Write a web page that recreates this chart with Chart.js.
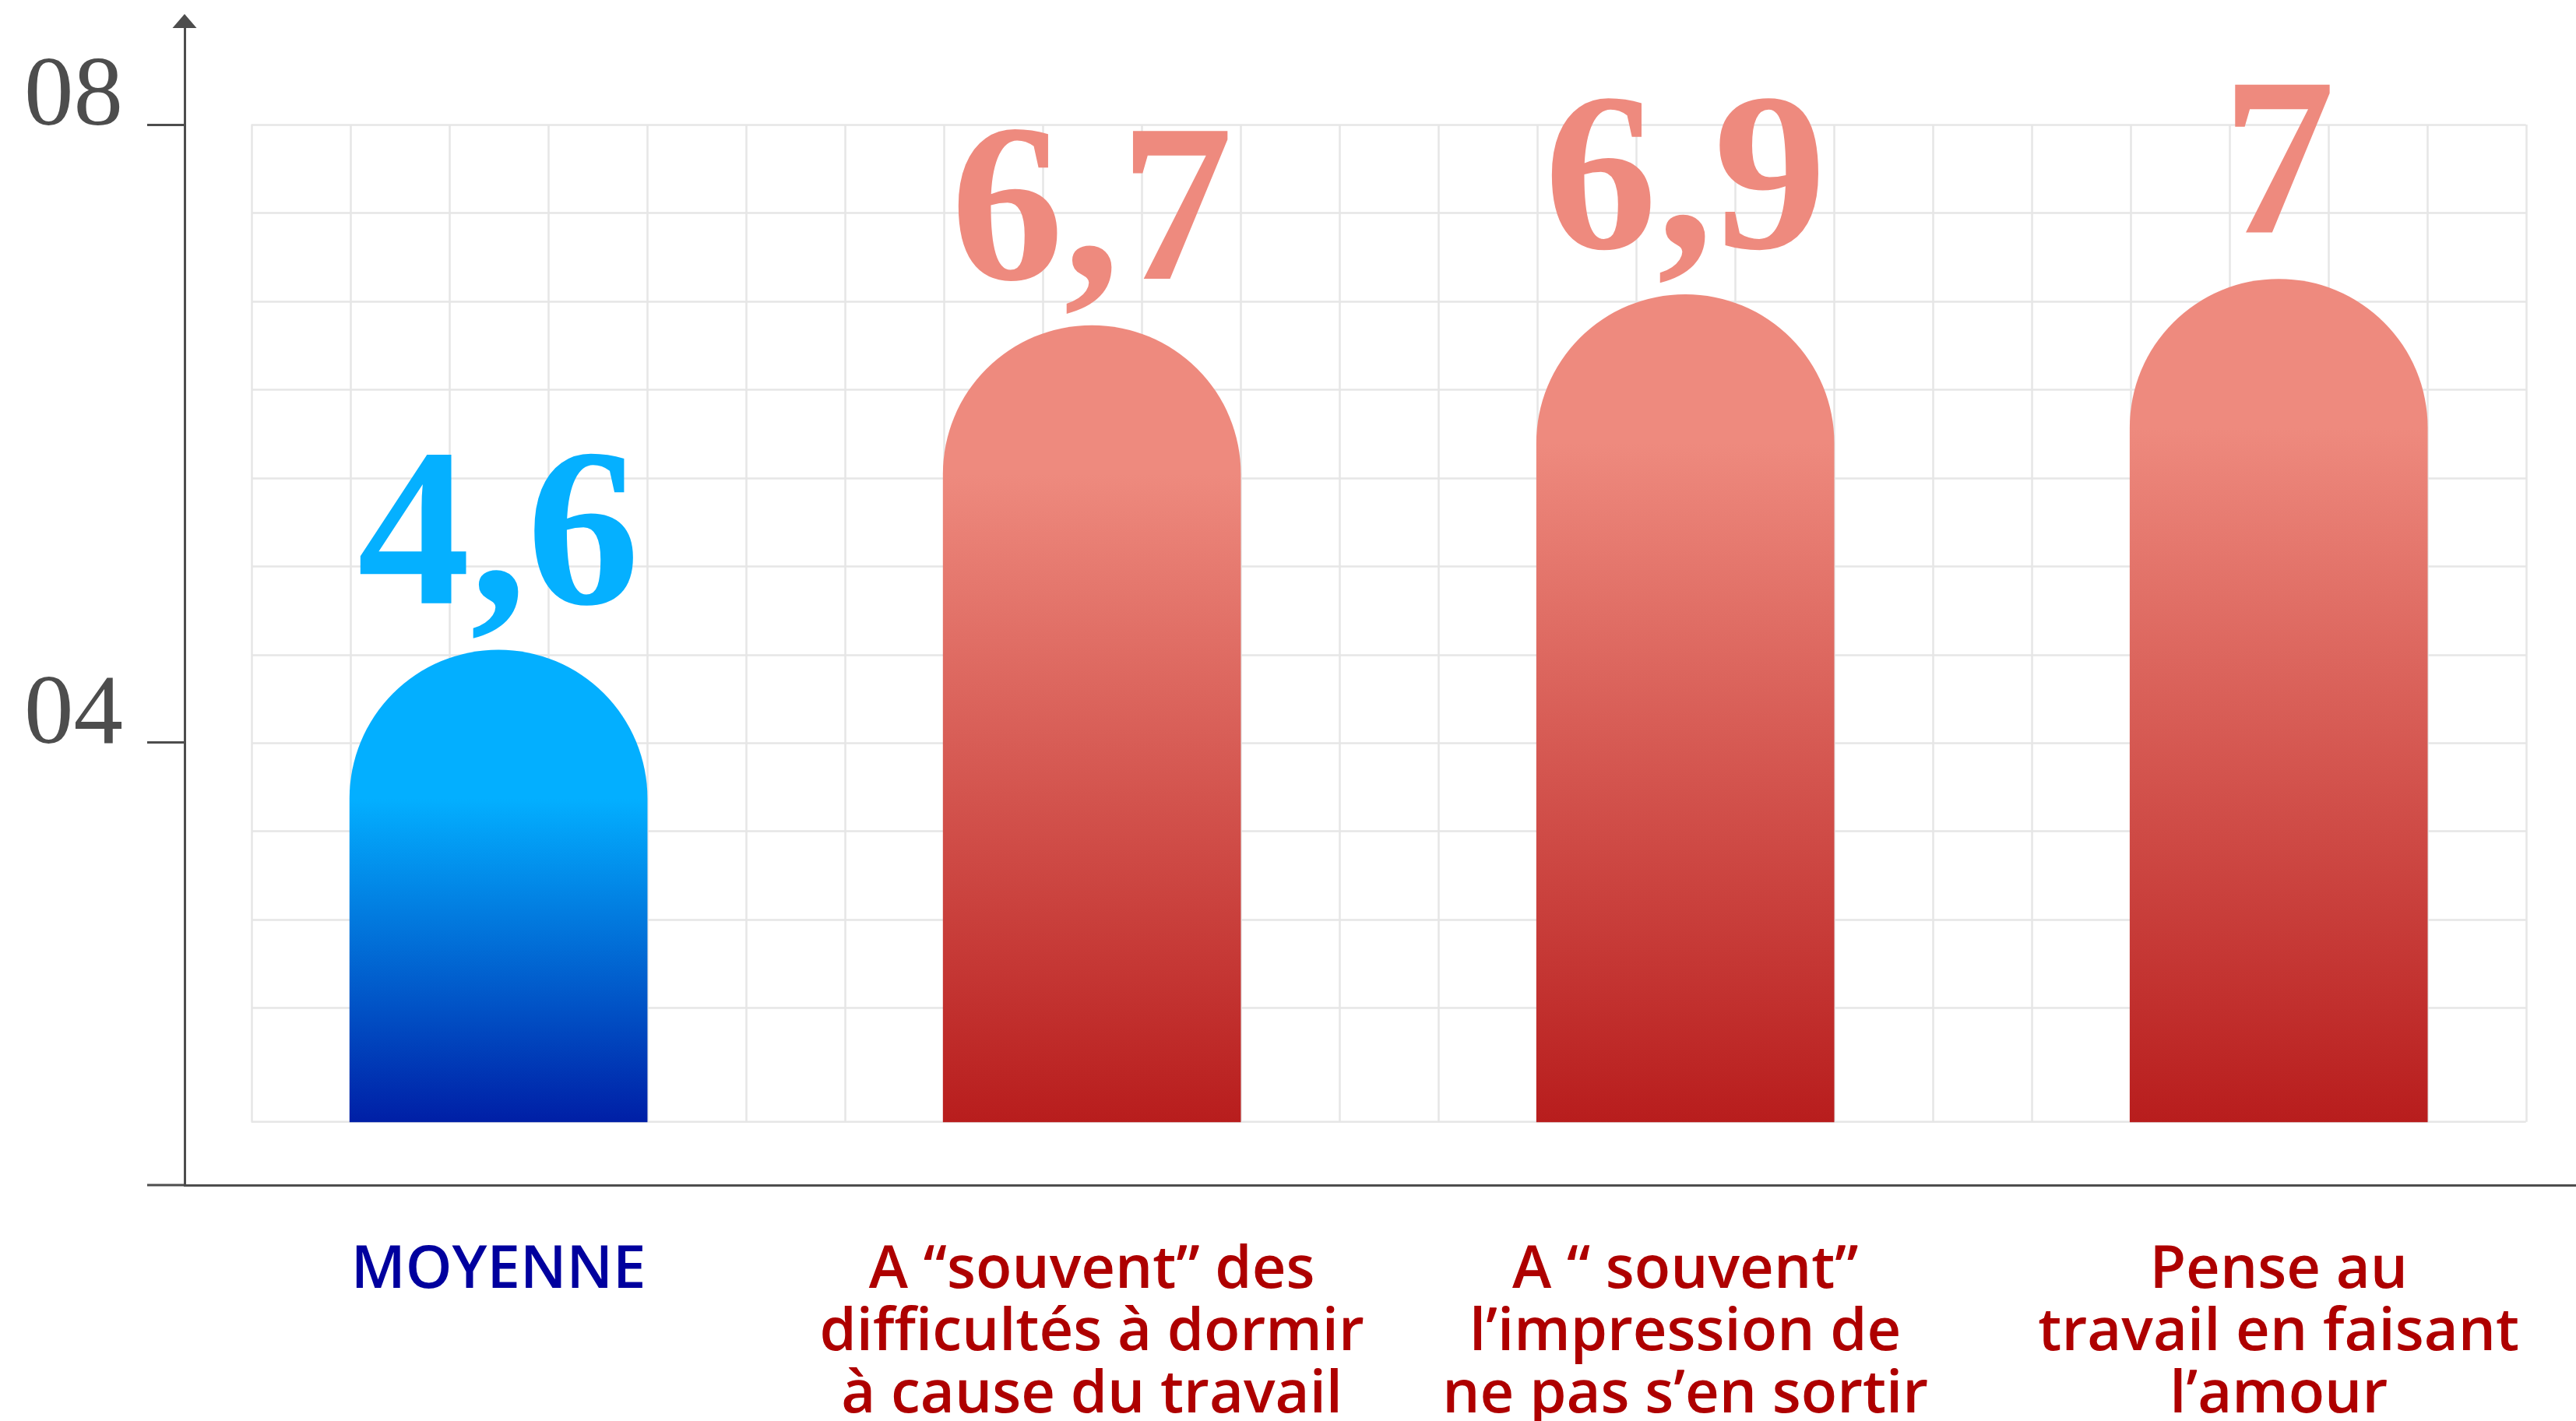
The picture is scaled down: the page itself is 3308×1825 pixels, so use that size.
<!DOCTYPE html>
<html>
<head>
<meta charset="utf-8">
<script src="https://cdn.jsdelivr.net/npm/chart.js@4/dist/chart.umd.min.js"></script>
<style>
  html, body { margin: 0; padding: 0; background: #ffffff; }
  #wrap { width: 3308px; height: 1825px; position: relative; }
</style>
</head>
<body>
<div id="wrap"><canvas id="c"></canvas></div>
<script>
// ---- data ----
const categories = [
  ["MOYENNE"],
  ["A “souvent” des", "difficultés à dormir", "à cause du travail"],
  ["A “ souvent”", "l’impression de", "ne pas s’en sortir"],
  ["Pense au", "travail en faisant", "l’amour"]
];
const values = [4.6, 6.7, 6.9, 7];
const valueLabels = ["4,6", "6,7", "6,9", "7"];
const yTickValues = [4, 8];
const yTickLabels = ["04", "08"];

// ---- styling / layout ----
const barBase = 1.547;
const groupOf = ["blue", "red", "red", "red"];
const palette = {
  blue: { top: "#03AFFF", bottom: "#001FA6", label: "#05B0FF", text: "#00009E" },
  red:  { top: "#EE8A7E", bottom: "#B81D1D", label: "#EE8A7E", text: "#AE0000" }
};
const AXIS = "#4d4d4d";
const GRIDC = "#e6e6e6";
const BAR_W = 382;

function barFill(ctx) {
  const chart = ctx.chart;
  const p = palette[groupOf[ctx.dataIndex] || "red"];
  if (ctx.type !== "data" || !chart.chartArea || !chart.scales.y) return p.top;
  const y = chart.scales.y;
  const top = y.getPixelForValue(values[ctx.dataIndex]);
  const bottom = y.getPixelForValue(barBase);
  const g = chart.ctx.createLinearGradient(0, top + BAR_W / 2, 0, bottom);
  g.addColorStop(0, p.top);
  g.addColorStop(1, p.bottom);
  return g;
}

function noPad(s) {
  s.paddingTop = 0; s.paddingBottom = 0; s.paddingLeft = 0; s.paddingRight = 0;
}

const gridPlugin = {
  id: "bgGrid",
  beforeDatasetsDraw(chart) {
    const { ctx, scales: { x, y } } = chart;
    const xl = x.getPixelForValue(-2.5 / 6), xr = x.getPixelForValue(20.5 / 6);
    const yt = y.getPixelForValue(8), yb = y.getPixelForValue(barBase);
    ctx.save();
    ctx.strokeStyle = GRIDC;
    ctx.lineWidth = 2.5;
    ctx.beginPath();
    for (let k = 0; k <= 10; k++) {
      const py = Math.round(y.getPixelForValue(8 - k * 4 / 7)) + 0.5;
      ctx.moveTo(xl, py); ctx.lineTo(xr, py);
    }
    ctx.moveTo(xl, yb); ctx.lineTo(xr, yb);
    for (let k = 0; k <= 23; k++) {
      const px = Math.round(x.getPixelForValue((k - 2.5) / 6)) + 0.5;
      ctx.moveTo(px, yt); ctx.lineTo(px, yb);
    }
    ctx.stroke();
    ctx.restore();
  }
};

const labelPlugin = {
  id: "valueLabels",
  afterDatasetsDraw(chart) {
    const ctx = chart.ctx;
    const meta = chart.getDatasetMeta(0);
    ctx.save();
    ctx.font = 'bold 290px "Liberation Serif", "DejaVu Serif", serif';
    ctx.textAlign = "center";
    ctx.textBaseline = "alphabetic";
    meta.data.forEach((el, i) => {
      ctx.fillStyle = palette[groupOf[i]].label;
      ctx.fillText(valueLabels[i], el.x, el.y - 60);
    });
    ctx.restore();
  }
};

const axisExtras = {
  id: "axisExtras",
  afterDraw(chart) {
    const { ctx, chartArea: a } = chart;
    ctx.save();
    ctx.strokeStyle = AXIS;
    ctx.fillStyle = AXIS;
    ctx.lineWidth = 3;
    ctx.beginPath();
    ctx.moveTo(a.left - 48, a.bottom);
    ctx.lineTo(a.left, a.bottom);
    ctx.stroke();
    ctx.beginPath();
    ctx.moveTo(a.left, a.top - 17);
    ctx.lineTo(a.left + 15.5, a.top + 1);
    ctx.lineTo(a.left - 15.5, a.top + 1);
    ctx.closePath();
    ctx.fill();
    ctx.restore();
  }
};

new Chart(document.getElementById("c"), {
  type: "bar",
  data: {
    datasets: [{
      data: values.map((v, i) => ({ x: i, y: v })),
      base: barBase,
      barThickness: BAR_W,
      borderRadius: { topLeft: BAR_W / 2, topRight: BAR_W / 2, bottomLeft: 0, bottomRight: 0 },
      borderSkipped: "start",
      backgroundColor: barFill,
      borderWidth: 0
    }]
  },
  options: {
    responsive: true,
    maintainAspectRatio: false,
    devicePixelRatio: 1,
    animation: false,
    layout: { padding: { top: 35, left: 0, right: 0, bottom: 0 } },
    plugins: { legend: { display: false }, tooltip: { enabled: false } },
    scales: {
      x: {
        type: "linear",
        offset: false,
        min: -0.529,
        max: 3.501,
        afterBuildTicks: (s) => { s.ticks = categories.map((c, i) => ({ value: i })); },
        afterFit: (s) => { s.height = 303; noPad(s); },
        grid: { display: false, offset: false },
        border: { display: true, color: AXIS, width: 3 },
        ticks: {
          autoSkip: false,
          maxRotation: 0,
          padding: 62,
          callback: (v) => categories[v],
          color: (c) => palette[groupOf[c.index]].text,
          font: { family: '"Open Sans", sans-serif', size: 76, weight: "600", lineHeight: 80 / 76 }
        }
      },
      y: {
        min: 1.138,
        max: 8.63,
        afterBuildTicks: (s) => { s.ticks = yTickValues.map(v => ({ value: v })); },
        afterFit: (s) => { s.width = 237; noPad(s); },
        grid: { drawOnChartArea: false, drawTicks: true, tickLength: 48, tickColor: AXIS, tickWidth: 3 },
        border: { display: true, color: AXIS, width: 3 },
        ticks: {
          padding: 31,
          labelOffset: -33,
          color: AXIS,
          callback: (v, i) => yTickLabels[i],
          font: { family: '"Liberation Serif", serif', size: 127, weight: "normal" }
        }
      }
    }
  },
  plugins: [gridPlugin, labelPlugin, axisExtras]
});
</script>
</body>
</html>
